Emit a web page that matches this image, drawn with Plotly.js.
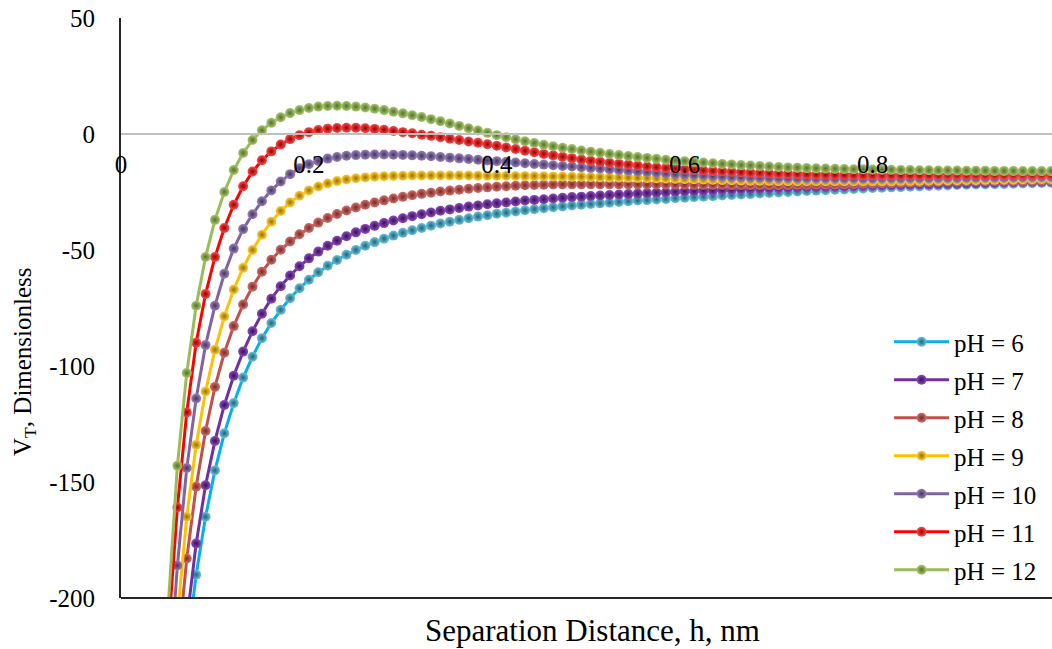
<!DOCTYPE html>
<html><head><meta charset="utf-8">
<script src="https://cdn.plot.ly/plotly-3.0.1.min.js"></script>
<style>html,body{margin:0;padding:0;background:#fff}#chart{width:1052px;height:649px}</style>
</head><body><div id="chart"></div>
<script>
const h = [
0.05,0.06,0.07,0.08,0.09,0.10,0.11,0.12,0.13,0.14,
0.15,0.16,0.17,0.18,0.19,0.20,0.21,0.22,0.23,0.24,
0.25,0.26,0.27,0.28,0.29,0.30,0.31,0.32,0.33,0.34,
0.35,0.36,0.37,0.38,0.39,0.40,0.41,0.42,0.43,0.44,
0.45,0.46,0.47,0.48,0.49,0.50,0.51,0.52,0.53,0.54,
0.55,0.56,0.57,0.58,0.59,0.60,0.61,0.62,0.63,0.64,
0.65,0.66,0.67,0.68,0.69,0.70,0.71,0.72,0.73,0.74,
0.75,0.76,0.77,0.78,0.79,0.80,0.81,0.82,0.83,0.84,
0.85,0.86,0.87,0.88,0.89,0.90,0.91,0.92,0.93,0.94,
0.95,0.96,0.97,0.98,0.99];

const vPH6 = [
null,null,-223,-190,-165,-145,-129,-116,-105,-96,
-88,-81.5,-75.8,-70.8,-66.5,-62.8,-59.6,-56.8,-54.3,-52.0,
-50.0,-48.2,-46.6,-45.1,-43.8,-42.6,-41.5,-40.5,-39.5,-38.6,
-37.8,-37.0,-36.3,-35.6,-35.0,-34.4,-33.9,-33.4,-32.9,-32.4,
-32.0,-31.6,-31.2,-30.8,-30.5,-30.2,-29.9,-29.6,-29.3,-29.0,
-28.7,-28.5,-28.2,-28.0,-27.7,-27.5,-27.2,-27.0,-26.8,-26.5,
-26.3,-26.1,-25.9,-25.6,-25.4,-25.2,-25.0,-24.8,-24.6,-24.4,
-24.2,-24.0,-23.9,-23.7,-23.5,-23.3,-23.2,-23.0,-22.9,-22.7,
-22.6,-22.4,-22.3,-22.2,-22.0,-21.9,-21.8,-21.7,-21.6,-21.5,
-21.4,-21.3,-21.2,-21.1,-21.0];

const vPH7 = [
null,null,-210,-176.5,-151.4,-132.3,-116.8,-104.2,-93.8,-85.0,
-77.5,-71.0,-65.6,-61.0,-57.0,-53.6,-50.7,-48.2,-46.0,-44.1,
-42.4,-40.9,-39.6,-38.4,-37.3,-36.3,-35.4,-34.6,-33.8,-33.1,
-32.5,-31.9,-31.3,-30.8,-30.3,-29.9,-29.5,-29.1,-28.7,-28.4,
-28.1,-27.8,-27.5,-27.2,-27.0,-26.7,-26.5,-26.3,-26.1,-25.9,
-25.7,-25.5,-25.3,-25.1,-24.9,-24.7,-24.6,-24.4,-24.3,-24.1,
-24.0,-23.8,-23.7,-23.6,-23.4,-23.3,-23.2,-23.1,-23.0,-22.9,
-22.8,-22.7,-22.6,-22.5,-22.4,-22.3,-22.2,-22.1,-22.0,-21.9,
-21.8,-21.7,-21.6,-21.5,-21.4,-21.3,-21.2,-21.1,-21.0,-20.9,
-20.8,-20.7,-20.6,-20.6,-20.5];

const vPH8 = [
null,-225,-183,-152,-128,-109,-94.3,-82.8,-73.5,-65.8,
-59.4,-54.2,-49.9,-46.3,-43.2,-40.5,-38.2,-36.2,-34.5,-33.0,
-31.7,-30.5,-29.5,-28.6,-27.8,-27.1,-26.4,-25.8,-25.3,-24.8,
-24.4,-24.0,-23.6,-23.3,-23.0,-22.7,-22.5,-22.3,-22.1,-22.0,
-21.9,-21.8,-21.7,-21.7,-21.7,-21.7,-21.7,-21.7,-21.7,-21.7,
-21.7,-21.8,-21.8,-21.8,-21.8,-21.8,-21.9,-21.9,-21.9,-21.9,
-22.0,-22.0,-22.0,-22.0,-22.0,-22.0,-22.0,-21.9,-21.9,-21.8,
-21.8,-21.7,-21.6,-21.5,-21.4,-21.3,-21.2,-21.1,-21.0,-20.9,
-20.8,-20.7,-20.6,-20.5,-20.5,-20.4,-20.3,-20.3,-20.2,-20.2,
-20.1,-20.1,-20.0,-20.0,-20.0];

const vPH9 = [
null,-208,-165,-134,-111,-93,-78.6,-67,-57.7,-50,
-43.4,-37.8,-33.2,-29.5,-26.6,-24.3,-22.6,-21.3,-20.3,-19.6,
-19.1,-18.7,-18.4,-18.2,-18.1,-18.0,-17.9,-17.9,-17.9,-17.9,
-17.9,-17.9,-17.9,-18.0,-18.0,-18.0,-18.0,-18.1,-18.1,-18.2,
-18.2,-18.3,-18.3,-18.4,-18.4,-18.5,-18.6,-18.7,-18.7,-18.8,
-18.9,-19.0,-19.1,-19.2,-19.3,-19.4,-19.5,-19.6,-19.7,-19.8,
-19.9,-20.0,-20.1,-20.1,-20.2,-20.3,-20.3,-20.4,-20.4,-20.4,
-20.4,-20.4,-20.4,-20.4,-20.4,-20.3,-20.3,-20.3,-20.2,-20.2,
-20.1,-20.0,-20.0,-19.9,-19.9,-19.8,-19.8,-19.7,-19.7,-19.6,
-19.6,-19.5,-19.5,-19.4,-19.4];

const vPH10 = [
-244,-186,-144,-114,-91,-74,-60.2,-49.4,-41.0,-34.6,
-29.0,-24.3,-20.5,-17.3,-14.8,-13.0,-11.6,-10.6,-9.9,-9.4,
-9.1,-8.9,-8.8,-8.8,-8.9,-9.0,-9.2,-9.4,-9.6,-9.9,
-10.2,-10.5,-10.8,-11.1,-11.4,-11.7,-12.0,-12.3,-12.6,-12.9,
-13.2,-13.5,-13.8,-14.0,-14.3,-14.6,-14.9,-15.2,-15.5,-15.8,
-16.1,-16.4,-16.7,-17.0,-17.3,-17.5,-17.7,-17.9,-18.1,-18.3,
-18.5,-18.6,-18.7,-18.8,-18.9,-19.0,-19.0,-19.1,-19.1,-19.2,
-19.2,-19.2,-19.2,-19.2,-19.2,-19.2,-19.1,-19.1,-19.1,-19.0,
-19.0,-19.0,-18.9,-18.9,-18.9,-18.8,-18.8,-18.7,-18.7,-18.7,
-18.6,-18.6,-18.5,-18.5,-18.4];

const vPH11 = [
-217,-161,-120,-90,-69,-53,-40.5,-30.5,-22.5,-16.2,
-11.3,-7.5,-4.5,-2.2,-0.5,0.8,1.7,2.3,2.6,2.7,
2.7,2.5,2.2,1.8,1.3,0.8,0.3,-0.3,-0.8,-1.4,
-2.0,-2.6,-3.2,-3.8,-4.4,-5.1,-5.8,-6.5,-7.2,-7.9,
-8.6,-9.2,-9.8,-10.4,-11.0,-11.5,-12.0,-12.4,-12.8,-13.2,
-13.6,-14.0,-14.3,-14.7,-15.0,-15.3,-15.5,-15.7,-15.9,-16.1,
-16.3,-16.5,-16.7,-16.8,-17.0,-17.1,-17.2,-17.3,-17.4,-17.5,
-17.6,-17.6,-17.7,-17.7,-17.8,-17.8,-17.8,-17.8,-17.8,-17.8,
-17.8,-17.8,-17.8,-17.7,-17.7,-17.7,-17.7,-17.7,-17.7,-17.7,
-17.6,-17.6,-17.6,-17.6,-17.6];

const vPH12 = [
-205,-143,-103,-74,-53,-37,-25,-15.5,-8.2,-2.6,
1.6,4.8,7.2,9.0,10.3,11.2,11.8,12.1,12.2,12.1,
11.8,11.4,10.9,10.3,9.6,8.9,8.1,7.3,6.4,5.5,
4.5,3.5,2.5,1.5,0.5,-0.5,-1.4,-2.3,-3.1,-3.9,
-4.6,-5.3,-5.9,-6.5,-7.1,-7.6,-8.1,-8.6,-9.1,-9.5,
-9.9,-10.3,-10.7,-11.1,-11.4,-11.7,-12.0,-12.3,-12.6,-12.9,
-13.1,-13.4,-13.6,-13.8,-14.0,-14.2,-14.4,-14.5,-14.7,-14.8,
-14.9,-15.0,-15.1,-15.2,-15.2,-15.3,-15.4,-15.4,-15.5,-15.5,
-15.6,-15.6,-15.7,-15.7,-15.7,-15.8,-15.8,-15.8,-15.9,-15.9,
-15.9,-16.0,-16.0,-16.0,-16.0];

const seriesNames = ['pH = 6','pH = 7','pH = 8','pH = 9','pH = 10','pH = 11','pH = 12'];
const seriesValues = [vPH6, vPH7, vPH8, vPH9, vPH10, vPH11, vPH12];
const lineColors = ['#00B0F0','#7030A0','#C0504D','#FFC000','#8064A2','#FF0000','#9BBB59'];
const markerCenters = ['#6cc3dc','#8c4cbc','#d0706d','#ffd23a','#9a82bb','#ff4a4a','#a9c86e'];
const markerEdges = ['#1f6478','#3a0f5a','#7a2826','#9a6e00','#45345f','#940000','#54702a'];

const xTickVals = [0, 0.2, 0.4, 0.6, 0.8];
const xTickText = ['0', '0.2', '0.4', '0.6', '0.8'];
const yTickVals = [50, 0, -50, -100, -150, -200];
const yTickText = ['50', '0', '-50', '-100', '-150', '-200'];

const fontFamily = '"Liberation Serif", "Times New Roman", serif';

const traces = seriesNames.map((name, i) => ({
  type: 'scatter',
  mode: 'lines+markers',
  name: name,
  legendgroup: 'g' + i,
  x: h,
  y: seriesValues[i],
  line: {color: lineColors[i], width: 3},
  marker: {size: 10, color: markerCenters[i], line: {width: 0},
           gradient: {type: 'radial', color: markerEdges[i]}},
  connectgaps: false,
  cliponaxis: true
}));

const layout = {
  width: 1052, height: 649,
  margin: {l: 121, r: 0, t: 18, b: 51, pad: 0},
  paper_bgcolor: '#ffffff', plot_bgcolor: '#ffffff',
  font: {family: fontFamily, color: '#000000', size: 25},
  showlegend: true,
  xaxis: {
    range: [0, 0.991], anchor: 'free', position: 0.8,
    showline: true, linecolor: '#BFBFBF', linewidth: 2,
    showgrid: false, zeroline: false,
    tickmode: 'array', tickvals: xTickVals, ticktext: xTickText,
    ticks: '', ticklabelstandoff: 8,
    tickfont: {family: fontFamily, size: 25, color: '#000'}
  },
  yaxis: {
    range: [-200, 50],
    showline: true, linecolor: '#262626', linewidth: 2,
    showgrid: false, zeroline: false,
    tickmode: 'array', tickvals: yTickVals, ticktext: yTickText,
    ticks: '', ticklabelstandoff: 19,
    tickfont: {family: fontFamily, size: 25, color: '#000'}
  },
  shapes: [{type: 'line', xref: 'paper', yref: 'paper', x0: 0, x1: 1, y0: 0, y1: 0,
            line: {color: '#262626', width: 2}}],
  annotations: [
    {text: 'Separation Distance, h, nm', xref: 'paper', yref: 'paper', x: 0.506, y: 0,
     yshift: -32, xanchor: 'center', yanchor: 'middle', showarrow: false,
     font: {family: fontFamily, size: 31, color: '#000'}},
    {text: 'V<sub>T</sub>, Dimensionless', xref: 'paper', yref: 'paper', x: 0, y: 0.407,
     xshift: -96, xanchor: 'center', yanchor: 'middle', textangle: -90, showarrow: false,
     font: {family: fontFamily, size: 25, color: '#000'}}
  ],
  legend: {
    x: 0.825, y: 0.481, xanchor: 'left', yanchor: 'top',
    bgcolor: 'rgba(0,0,0,0)', borderwidth: 0,
    font: {family: fontFamily, size: 25, color: '#000'},
    itemwidth: 55, traceorder: 'grouped', tracegroupgap: 2.5
  }
};

Plotly.newPlot('chart', traces, layout, {displayModeBar: false, staticPlot: true});
</script>
</body></html>
